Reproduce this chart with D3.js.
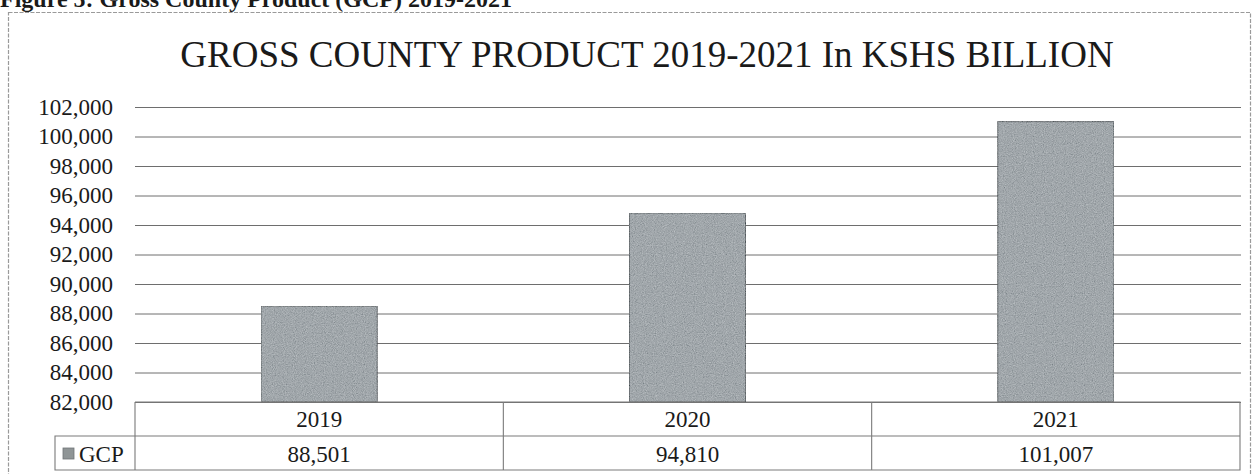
<!DOCTYPE html>
<html>
<head>
<meta charset="utf-8">
<script src="https://cdn.jsdelivr.net/npm/d3@7/dist/d3.min.js"></script>
<style>
  html, body { margin: 0; padding: 0; background: #fff; }
  svg { display: block; }
  text { font-family: "Liberation Serif", "Times New Roman", Times, serif; fill: #1a1a1a; }
</style>
</head>
<body>
<svg id="chart" width="1258" height="474"></svg>
<script>
// Gross County Product, KSHS billion
const years = ["2019", "2020", "2021"];
const gcpValues = [88501, 94810, 101007];
const yTicks = [82000, 84000, 86000, 88000, 90000, 92000, 94000, 96000, 98000, 100000, 102000];
const seriesName = "GCP";
const chartTitle = "GROSS COUNTY PRODUCT 2019-2021 In KSHS BILLION";
const figureCaption = "Figure 5: Gross County Product (GCP) 2019-2021";

const svg = d3.select("#chart");
const fmt = d3.format(",");
const serif = "'Liberation Serif', 'Times New Roman', Times, serif";

const plotLeft = 135, plotRight = 1241, plotTop = 107, plotBottom = 402;
const rowH = 34, legendLeft = 55;

// grain for the printed bar fill
const defs = svg.append("defs");
const f = defs.append("filter").attr("id", "grain").attr("x", 0).attr("y", 0).attr("width", 1).attr("height", 1);
f.append("feTurbulence").attr("type", "fractalNoise").attr("baseFrequency", 0.9).attr("numOctaves", 2).attr("seed", 7).attr("result", "noise");
f.append("feColorMatrix").attr("in", "noise").attr("type", "matrix")
  .attr("values", "0.33 0.33 0.33 0 0  0.33 0.33 0.33 0 0  0.33 0.33 0.33 0 0  0 0 0 0 1")
  .attr("result", "gnoise");
f.append("feComposite").attr("in", "SourceGraphic").attr("in2", "gnoise").attr("operator", "arithmetic")
  .attr("k1", 0).attr("k2", 1).attr("k3", 0.6).attr("k4", -0.3).attr("result", "mix");
f.append("feComposite").attr("in", "mix").attr("in2", "SourceGraphic").attr("operator", "in");

// figure caption, partly above the page edge
svg.append("text")
  .attr("x", 0).attr("y", 7)
  .style("font-family", serif)
  .style("font-weight", "bold").style("font-size", "24px")
  .text(figureCaption);

// chart frame
svg.append("rect")
  .attr("x", 8.5).attr("y", 12.5).attr("width", 1242).attr("height", 470)
  .attr("fill", "none").attr("stroke", "#9a9a9a").attr("stroke-width", 1.2)
  .attr("stroke-dasharray", "4,1.5");

// title
svg.append("text")
  .attr("x", 647).attr("y", 67)
  .attr("text-anchor", "middle")
  .style("font-family", serif)
  .style("font-size", "37px")
  .text(chartTitle);

const y = d3.scaleLinear().domain([82000, 102000]).range([plotBottom, plotTop]);
const x = d3.scaleBand().domain(years).range([plotLeft, plotRight - 1])
  .paddingInner(0.685).paddingOuter(0.3425);
const col = d3.scaleBand().domain(years).range([plotLeft, plotRight - 1]).padding(0);

// gridlines + tick labels via axis
const yAxis = d3.axisLeft(y).tickValues(yTicks).tickFormat(fmt)
  .tickSize(-(plotRight - plotLeft)).tickPadding(22);
const gAxis = svg.append("g").attr("transform", `translate(${plotLeft},0)`).call(yAxis);
gAxis.attr("font-family", null).attr("font-size", null);
gAxis.select(".domain").remove();
gAxis.selectAll(".tick line").attr("stroke", "#6e6e6e").attr("stroke-width", 1);
gAxis.selectAll(".tick text")
  .style("font-size", "23px").style("font-family", serif)
  .attr("fill", "#1a1a1a").attr("dy", "0.32em");

// bars
svg.append("g").selectAll("rect")
  .data(years.map((yr, i) => ({ yr, v: gcpValues[i] })))
  .join("rect")
  .attr("x", d => x(d.yr))
  .attr("y", d => y(d.v))
  .attr("width", x.bandwidth())
  .attr("height", d => plotBottom - y(d.v))
  .attr("fill", "#a1a7ab")
  .attr("stroke", "#6f7477").attr("stroke-width", 1)
  .attr("filter", "url(#grain)");

// data table below the plot
const tbl = svg.append("g").attr("fill", "none").attr("stroke", "#7a7a7a").attr("stroke-width", 1.1);
const r1 = plotBottom, r2 = plotBottom + rowH, r3 = plotBottom + 2 * rowH;
const tRight = plotRight - 1;
tbl.append("path").attr("d",
  `M${plotLeft},${r1}H${tRight}V${r3}H${legendLeft}V${r2}H${tRight}` +
  `M${plotLeft},${r1}V${r3}`);
years.slice(1).forEach(yr => {
  tbl.append("line").attr("x1", col(yr)).attr("x2", col(yr)).attr("y1", r1).attr("y2", r3);
});

svg.append("g").selectAll("text.year")
  .data(years).join("text").attr("class", "year")
  .attr("x", d => col(d) + col.bandwidth() / 2).attr("y", r1 + 25)
  .attr("text-anchor", "middle").style("font-size", "23px").style("font-family", serif)
  .text(d => d);

svg.append("g").selectAll("text.val")
  .data(gcpValues).join("text").attr("class", "val")
  .attr("x", (d, i) => col(years[i]) + col.bandwidth() / 2).attr("y", r2 + 26)
  .attr("text-anchor", "middle").style("font-size", "23px").style("font-family", serif)
  .text(d => fmt(d));

// legend key in the table header cell
svg.append("rect")
  .attr("x", 63).attr("y", 448).attr("width", 11).attr("height", 11)
  .attr("fill", "#8f9596").attr("stroke", "#6f7477").attr("stroke-width", 0.8);
svg.append("text")
  .attr("x", 79).attr("y", r2 + 26)
  .style("font-size", "23px").style("font-family", serif)
  .text(seriesName);
</script>
</body>
</html>
